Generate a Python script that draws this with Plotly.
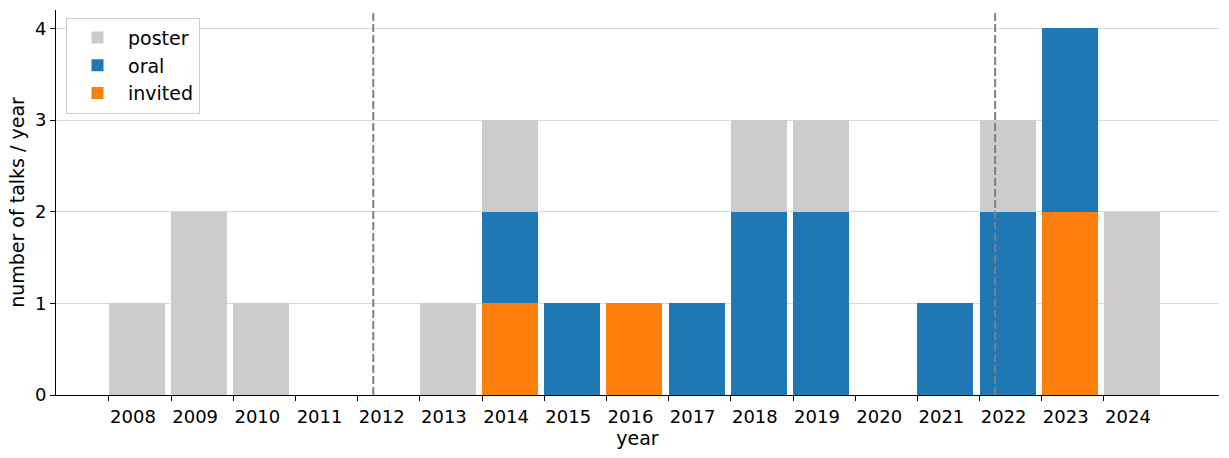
import plotly.graph_objects as go

years = list(range(2008, 2025))
invited = [0, 0, 0, 0, 0, 0, 1, 0, 1, 0, 0, 0, 0, 0, 0, 2, 0]
oral =    [0, 0, 0, 0, 0, 0, 1, 1, 0, 1, 2, 2, 0, 1, 2, 2, 0]
poster =  [1, 2, 1, 0, 0, 1, 1, 0, 0, 0, 1, 1, 0, 0, 1, 0, 2]
marker_years = [2012.25, 2022.25]

colors = {"poster": "#cccccc", "oral": "#1f77b4", "invited": "#ff7f0e"}
FONT = "DejaVu Sans"

fig = go.Figure()
for name, vals in [("invited", invited), ("oral", oral), ("poster", poster)]:
    fig.add_trace(go.Bar(
        x=years, y=vals, name=name, width=0.9, offset=0,
        marker=dict(color=colors[name], line=dict(width=0)),
    ))

for xv in marker_years:
    fig.add_shape(type="line", xref="x", yref="paper", x0=xv, x1=xv, y0=0, y1=1,
                  line=dict(color="#808080", width=2, dash="8px,3px"), layer="above")

fig.update_layout(
    width=1229, height=458,
    margin=dict(l=56, r=10, t=10, b=63, autoexpand=False),
    barmode="stack", bargap=0,
    plot_bgcolor="white", paper_bgcolor="white",
    font=dict(family=FONT, size=19, color="black"),
    showlegend=True,
    legend=dict(
        traceorder="reversed",
        x=0.0086, y=0.98, xanchor="left", yanchor="top",
        bgcolor="white", bordercolor="#cccccc", borderwidth=1,
        font=dict(size=19), itemwidth=51,
    ),
)
fig.update_xaxes(
    range=[2007.148, 2025.85], automargin=False,
    tickmode="array", tickvals=years, ticktext=[str(y) for y in years],
    ticks="outside", ticklen=5, tickcolor="black", tickwidth=1,
    ticklabelshift=24,
    showline=True, linecolor="black", linewidth=1,
    showgrid=False, zeroline=False,
    tickfont=dict(size=18),
    title=dict(text="year", standoff=4, font=dict(size=19)),
)
fig.update_yaxes(
    range=[0, 4.2], automargin=False,
    tickmode="array", tickvals=[0, 1, 2, 3, 4],
    ticks="outside", ticklen=5, tickcolor="black", tickwidth=1,
    showline=True, linecolor="black", linewidth=1,
    showgrid=True, gridcolor="#d9d9d9", gridwidth=1,
    zeroline=False,
    tickfont=dict(size=18),
    title=dict(text="number of talks / year", standoff=5, font=dict(size=19)),
)

fig.write_html(
    "out.html",
    config={"displayModeBar": False},
    post_script="document.body.style.margin='0';document.body.style.overflow='hidden';",
)
